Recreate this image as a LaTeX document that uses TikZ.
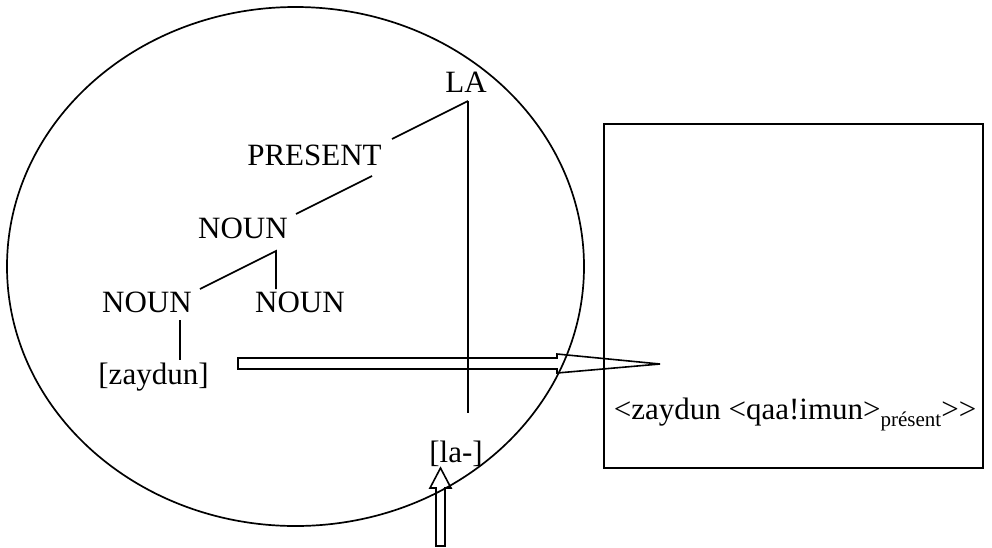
\documentclass[tikz,border=0pt]{standalone}
\usepackage{fontspec}
\setmainfont{Liberation Serif}
\usetikzlibrary{calc}

\begin{document}
\begin{tikzpicture}[x=1pt, y=-1pt, line width=1.7pt,
	every node/.style={inner sep=0pt, anchor=base, font=\fontsize{31}{36}\selectfont},
	bigarrow/.style={draw, line width=1.6pt}]
	\useasboundingbox (0,0) rectangle (992,547);

	% the big ellipse round the tree
	\draw (295.5,266.5) ellipse [x radius=288.5, y radius=259.5];
	% the box on the right
	\draw (604,124) rectangle (983,468);

	% tree nodes
	\node (la) at (466,92) {LA};
	\node (present) at (314.5,165) {PRESENT};
	\node (noun) at (243,238) {NOUN};
	\node (nounl) at (147,312) {NOUN};
	\node (nounr) at (300,312) {NOUN};
	\node (zaydun) at (153.5,384) {[zaydun]};
	\node (lamorph) at (456,462) {[la-]};
	\node[anchor=base west] (result) at (613,419)
		{{<}zaydun {<}qaa!imun{>}\raisebox{-7pt}{\fontsize{21}{24}\selectfont présent}{>}{>}};

	% branches
	\draw ($(la.base)+(2,9)$) -- ($(present.base)+(77.5,-26)$);
	\draw ($(la.base)+(2,9)$) -- ($(lamorph.base)+(12,-49)$);
	\draw ($(present.base)+(57.5,11)$) -- ($(noun.base)+(53,-24)$);
	\draw ($(nounl.base)+(53,-23)$) -- ($(noun.base)+(33,13)$) -- ($(nounr.base)+(-24,-23)$);
	\draw ($(nounl.base)+(33,8)$) -- ($(zaydun.base)+(26.5,-24)$);

	% hollow arrow from [zaydun] into the box
	\coordinate (tip) at (660,364);
	\draw[bigarrow] (238,358) -- (557,358) -- (557,354) -- (tip)
		-- (557,373) -- (557,369) -- (238,369) -- cycle;
	% hollow arrow up to [la-]
	\coordinate (latip) at (440.5,468);
	\draw[bigarrow] (436,546) -- (436,488) -- (430,488) -- (latip)
		-- (451,488) -- (445,488) -- (445,546) -- cycle;
\end{tikzpicture}
\end{document}
